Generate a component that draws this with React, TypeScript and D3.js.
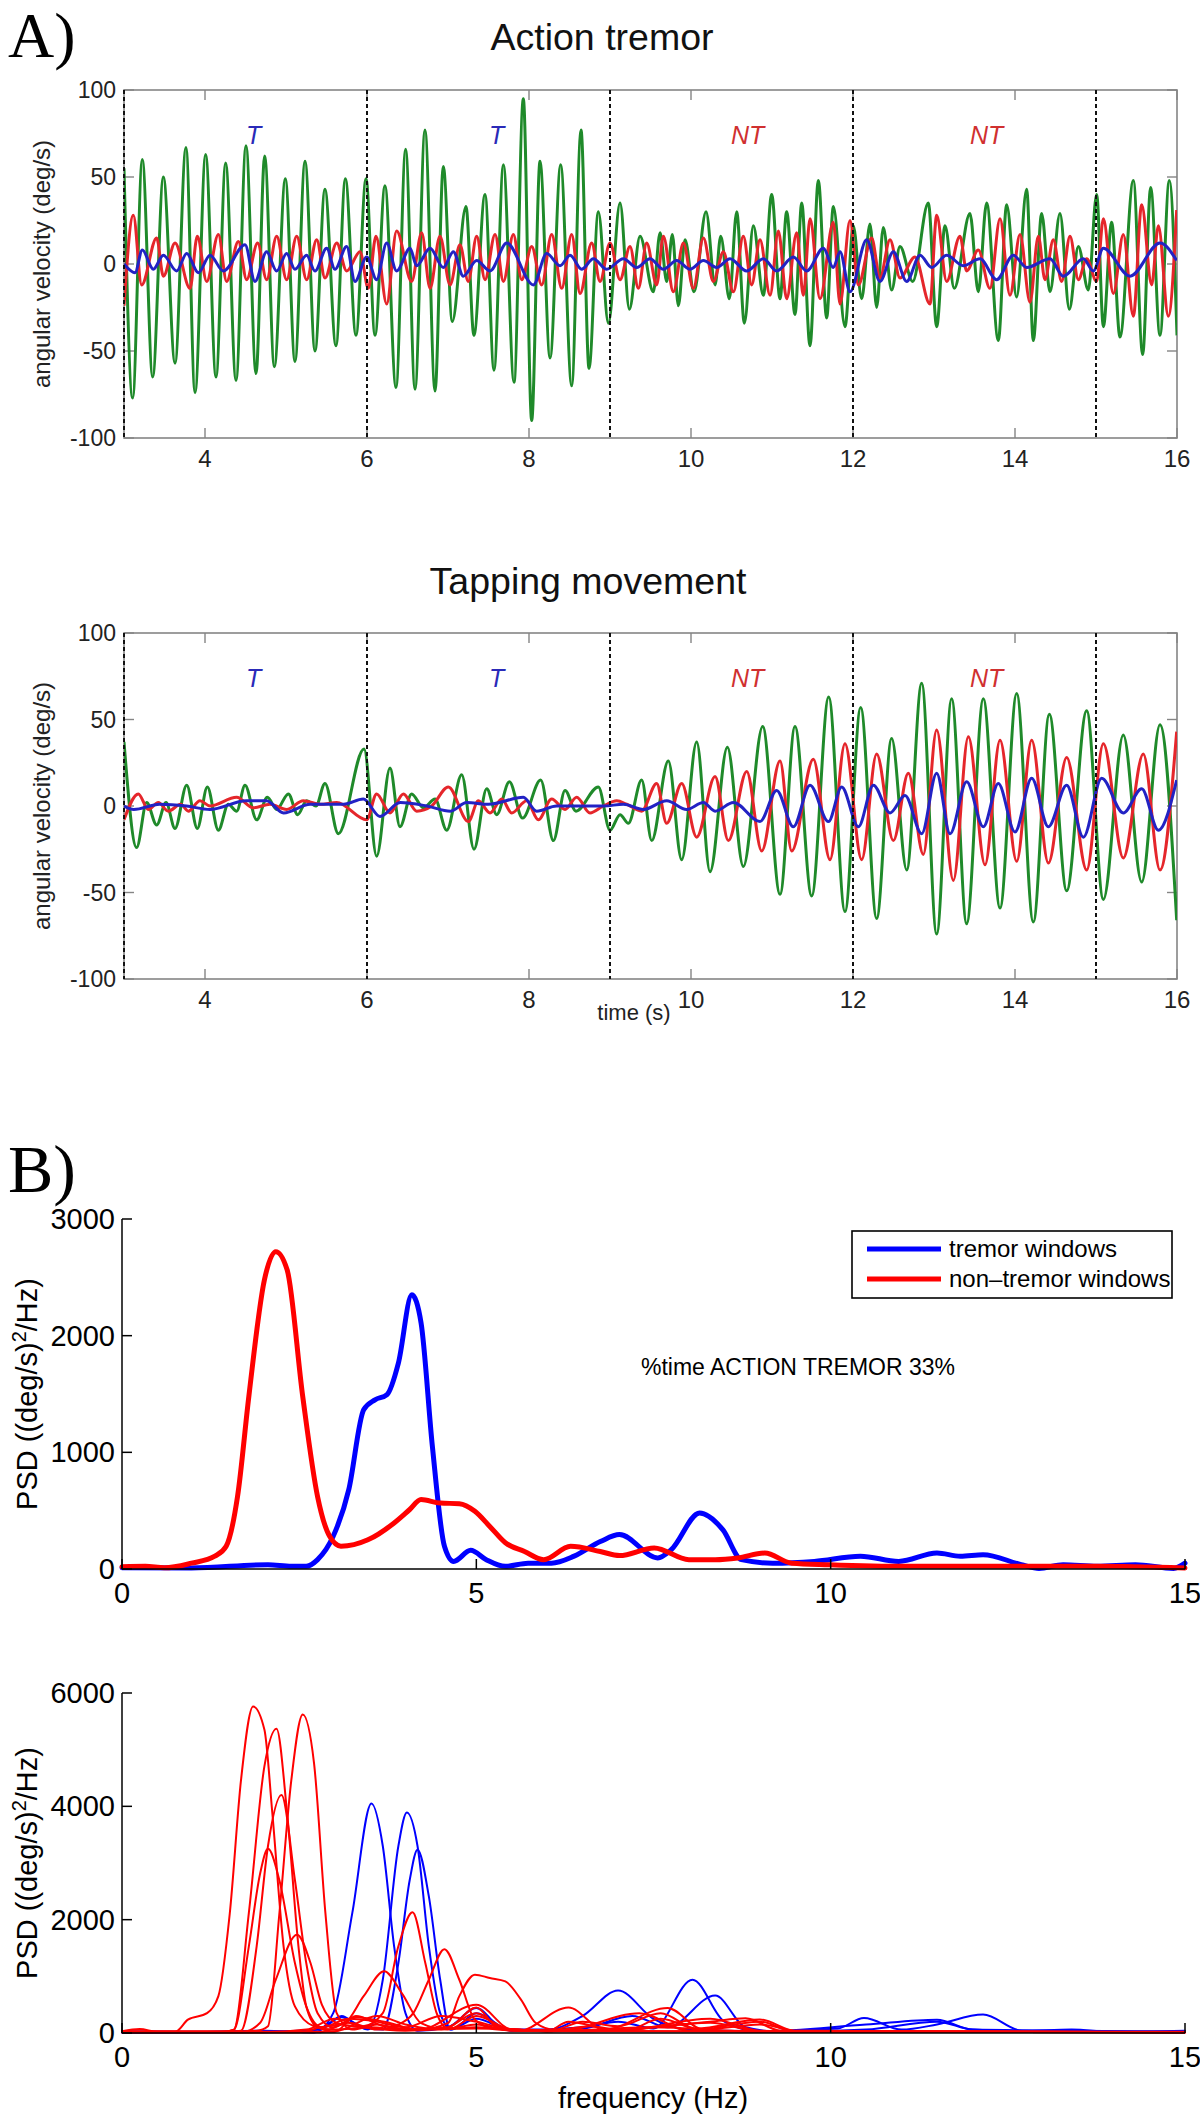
import * as d3 from "d3";

type Pt = [number, number];

// ---------- A) angular velocity traces: turning points [time s, deg/s]
const actionGreen: Pt[] = [
  [3.0, 55], [3.107, -77], [3.226, 60], [3.354, -65], [3.486, 50], [3.63, -57], [3.765, 67], [3.877, -74],
  [4.008, 63], [4.136, -65], [4.255, 58], [4.383, -67], [4.506, 68], [4.63, -63], [4.737, 62], [4.856, -59],
  [4.992, 49], [5.111, -56], [5.235, 59], [5.358, -50], [5.481, 43], [5.617, -47], [5.733, 49], [5.864, -41],
  [5.988, 49], [6.099, -41], [6.222, 45], [6.358, -71], [6.477, 66], [6.593, -72], [6.716, 77], [6.84, -73],
  [6.942, 56], [7.053, -33], [7.222, 33], [7.32, -41], [7.457, 40], [7.568, -61], [7.684, 57], [7.815, -68],
  [7.93, 95], [8.033, -90], [8.136, 59], [8.26, -54], [8.391, 57], [8.527, -70], [8.642, 77], [8.741, -60],
  [8.856, 30], [8.98, -34], [9.124, 35], [9.239, -26], [9.371, 16], [9.535, -16], [9.618, 18], [9.7, -10],
  [9.77, 17], [9.844, -24], [9.926, 14], [10.037, -16], [10.186, 30], [10.297, -12], [10.367, 16], [10.474, -20],
  [10.564, 30], [10.659, -34], [10.77, 22], [10.893, -18], [10.996, 40], [11.099, -20], [11.181, 30], [11.284, -29],
  [11.367, 35], [11.469, -47], [11.572, 48], [11.675, -31], [11.757, 33], [11.901, -36], [12.004, 22], [12.107, -20],
  [12.21, 23], [12.292, -25], [12.374, 21], [12.477, -15], [12.58, 10], [12.737, -10], [12.93, 35], [13.033, -36],
  [13.136, 22], [13.25, -14], [13.444, 29], [13.547, -16], [13.65, 35], [13.794, -44], [13.897, 34], [14.02, -19],
  [14.144, 43], [14.226, -44], [14.329, 29], [14.432, -16], [14.555, 29], [14.671, -26], [14.782, 10], [14.905, -15],
  [15.008, 40], [15.091, -36], [15.193, 24], [15.296, -42], [15.461, 48], [15.576, -52], [15.675, 44], [15.79, -41],
  [15.905, 48], [16.0, -41],
];

const actionRed: Pt[] = [
  [3.0, -24], [3.115, 28], [3.218, -12], [3.403, 15], [3.486, -7], [3.63, 12], [3.815, -14], [3.905, 16],
  [4.021, -10], [4.165, 17], [4.267, -10], [4.412, 13], [4.514, -9], [4.65, 12], [4.761, -9], [4.885, 16],
  [5.008, -9], [5.132, 16], [5.255, -9], [5.379, 14], [5.481, -8], [5.626, 12], [5.749, -4], [5.914, 7],
  [6.016, -14], [6.111, 16], [6.243, -23], [6.366, 19], [6.551, -10], [6.675, 18], [6.778, -14], [6.901, 16],
  [7.025, -12], [7.148, 11], [7.25, -10], [7.354, 16], [7.457, -9], [7.581, 17], [7.684, -10], [7.807, 17],
  [7.91, -9], [8.033, 10], [8.157, -12], [8.28, 17], [8.404, -14], [8.527, 17], [8.63, -17], [8.774, 12],
  [8.877, -10], [9.0, 12], [9.124, -9], [9.247, 10], [9.35, -14], [9.453, 12], [9.576, -12], [9.659, 16],
  [9.782, -16], [9.906, 12], [10.029, -14], [10.153, 15], [10.276, -10], [10.4, 7], [10.523, -16], [10.646, 16],
  [10.749, -12], [10.852, 14], [10.976, -18], [11.079, 19], [11.181, -20], [11.305, 18], [11.387, -18], [11.47, 26],
  [11.593, -20], [11.757, 24], [11.839, -23], [11.963, 25], [12.066, -12], [12.23, 15], [12.333, -8], [12.457, 14],
  [12.58, -8], [12.765, 4], [12.95, -23], [13.033, 28], [13.156, -10], [13.321, 16], [13.403, -4], [13.547, 8],
  [13.691, -14], [13.815, 26], [13.938, -18], [14.062, 17], [14.185, -22], [14.288, 16], [14.37, -9], [14.473, 14],
  [14.576, -10], [14.679, 16], [14.782, -9], [14.885, 3], [15.008, -10], [15.091, 26], [15.214, -17], [15.337, 17],
  [15.461, -30], [15.564, 34], [15.687, -12], [15.77, 22], [15.893, -30], [15.996, 31],
];

const actionBlue: Pt[] = [
  [3.0, 0], [3.136, -5], [3.226, 8], [3.362, -3], [3.486, 5], [3.65, -4], [3.774, 6], [3.918, -5],
  [4.062, 5], [4.226, -4], [4.494, 11], [4.617, -10], [4.761, 7], [4.885, -4], [5.008, 6], [5.111, -3],
  [5.255, 5], [5.358, -4], [5.502, 9], [5.605, -3], [5.749, 10], [5.852, -10], [5.996, 4], [6.119, -9],
  [6.243, 12], [6.366, -4], [6.531, 9], [6.613, -1], [6.778, 9], [6.942, -2], [7.066, 7], [7.189, -7],
  [7.354, 2], [7.519, -4], [7.725, 12], [8.054, -12], [8.218, 6], [8.383, -1], [8.507, 5], [8.65, -3],
  [8.795, 3], [8.959, -3], [9.165, 3], [9.33, -2], [9.494, 3], [9.659, -3], [9.823, 2], [9.988, -3],
  [10.153, 2], [10.317, -2], [10.482, 3], [10.687, -4], [10.893, 3], [11.058, -4], [11.264, 4], [11.428, -4],
  [11.634, 9], [11.757, -2], [11.84, 7], [11.963, -16], [12.169, 14], [12.333, -10], [12.498, 7], [12.663, -10],
  [12.827, 5], [12.971, -2], [13.156, 5], [13.362, -1], [13.568, 3], [13.774, -9], [13.979, 5], [14.144, -2],
  [14.432, 3], [14.597, -7], [14.844, 3], [14.967, -4], [15.091, 9], [15.42, -7], [15.79, 12], [15.996, 2],
];

const tapGreen: Pt[] = [
  [3.0, 37], [3.156, -24], [3.28, 2], [3.403, -11], [3.519, 2], [3.63, -13], [3.774, 12], [3.905, -13],
  [4.029, 11], [4.165, -14], [4.288, 1], [4.391, -3], [4.494, 12], [4.638, -8], [4.77, 5], [4.885, -2],
  [5.029, 7], [5.144, -5], [5.255, 3], [5.37, 0], [5.481, 13], [5.646, -16], [5.963, 33], [6.119, -29],
  [6.284, 22], [6.407, -12], [6.551, 7], [6.695, -1], [6.84, 4], [6.984, -14], [7.169, 18], [7.321, -25],
  [7.478, 10], [7.601, -5], [7.758, 14], [7.92, -7], [8.144, 15], [8.301, -20], [8.445, 9], [8.58, -3],
  [8.856, 11], [9.0, -14], [9.124, -5], [9.227, -10], [9.391, 15], [9.515, -20], [9.72, 26], [9.885, -31],
  [10.07, 37], [10.235, -38], [10.449, 34], [10.646, -35], [10.885, 46], [11.099, -51], [11.284, 46], [11.49, -52],
  [11.7, 63], [11.901, -61], [12.095, 57], [12.292, -65], [12.477, 39], [12.663, -37], [12.848, 71], [13.033, -74],
  [13.218, 62], [13.403, -68], [13.609, 62], [13.815, -59], [14.021, 65], [14.226, -67], [14.424, 53], [14.638, -49],
  [14.885, 55], [15.091, -54], [15.337, 41], [15.564, -44], [15.79, 47], [15.996, -66],
];

const tapRed: Pt[] = [
  [3.0, -8], [3.177, 7], [3.3, -2], [3.424, 2], [3.547, -3], [3.7, 1], [3.794, -3], [3.938, 3],
  [4.062, 0], [4.391, 5], [4.597, -1], [4.802, 1], [5.008, -2], [5.214, 3], [5.42, 1], [5.626, 2],
  [5.996, -8], [6.119, 7], [6.284, -4], [6.449, 7], [6.613, -3], [6.798, 0], [7.004, 11], [7.251, -9],
  [7.375, 3], [7.519, -4], [7.663, 4], [7.786, -4], [7.971, 3], [8.116, -8], [8.28, 4], [8.445, -2],
  [8.589, 5], [8.753, -4], [8.918, 0], [9.083, 3], [9.206, 1], [9.391, -3], [9.576, 13], [9.7, -10],
  [9.885, 13], [10.07, -18], [10.297, 17], [10.461, -20], [10.688, 20], [10.873, -26], [11.099, 26], [11.243, -26],
  [11.51, 27], [11.716, -31], [11.901, 36], [12.107, -31], [12.292, 30], [12.498, -20], [12.683, 19], [12.868, -28],
  [13.033, 44], [13.239, -43], [13.424, 40], [13.63, -34], [13.815, 38], [14.021, -32], [14.206, 38], [14.412, -33],
  [14.638, 28], [14.885, -37], [15.091, 36], [15.337, -30], [15.584, 30], [15.79, -37], [15.996, 43],
];

const tapBlue: Pt[] = [
  [3.0, 0], [3.12, -2], [3.44, 1], [3.77, 0], [4.06, -2], [4.51, 3], [4.76, 3], [4.97, -4],
  [5.3, 1], [5.71, 1], [5.955, 4], [6.16, -6], [6.41, 2], [6.74, 0], [7.03, -3], [7.23, 2],
  [7.5, 1], [7.93, 5], [8.095, -3], [8.34, 0], [8.63, 0], [8.92, 0], [9.165, 1], [9.412, -2],
  [9.7, 3], [9.947, -2], [10.153, 2], [10.297, -3], [10.523, 2], [10.852, -9], [11.058, 9], [11.264, -12],
  [11.47, 12], [11.696, -9], [11.86, 11], [12.066, -12], [12.251, 12], [12.457, -4], [12.642, 6], [12.848, -16],
  [13.033, 19], [13.198, -16], [13.403, 14], [13.609, -12], [13.794, 13], [14.0, -15], [14.206, 16], [14.412, -12],
  [14.638, 12], [14.844, -18], [15.07, 16], [15.337, -4], [15.564, 10], [15.77, -14], [15.996, 15],
];

const timeTicks = [4, 6, 8, 10, 12, 14, 16];
const velocityTicks = [-100, -50, 0, 50, 100];
const windowEdges = [3, 6, 9, 12, 15];
const windowTags = [
  { t: 4.6, tag: "T" },
  { t: 7.6, tag: "T" },
  { t: 10.7, tag: "NT" },
  { t: 13.65, tag: "NT" },
];

// ---------- B) power spectral density [Hz, (deg/s)^2/Hz]
const freqTicks = [0, 5, 10, 15];
const meanPsdTicks = [0, 1000, 2000, 3000];
const windowPsdTicks = [0, 2000, 4000, 6000];

const meanTremor: Pt[] = [
  [0, 10], [0.98, 9], [2.06, 37], [2.39, 23], [2.6, 23], [2.76, 80], [2.98, 280], [3.2, 680],
  [3.41, 1365], [3.57, 1450], [3.74, 1495], [3.9, 1765], [4.09, 2350], [4.22, 2110], [4.38, 1050], [4.55, 195],
  [4.68, 65], [4.92, 160], [5.14, 80], [5.41, 23], [5.73, 50], [6.06, 50], [6.38, 110], [6.75, 235],
  [7.02, 295], [7.56, 95], [7.75, 165], [8.15, 480], [8.48, 335], [8.74, 80], [9.18, 50], [9.77, 65],
  [10.42, 110], [10.96, 65], [11.5, 137], [11.83, 110], [12.15, 123], [12.69, 37], [12.94, 5], [13.28, 37],
  [13.76, 23], [14.3, 37], [14.84, 5], [15, 50],
];

const meanNonTremor: Pt[] = [
  [0, 20], [0.33, 23], [0.6, 10], [0.98, 50], [1.31, 110], [1.47, 195], [1.63, 620], [1.79, 1480],
  [2.01, 2480], [2.17, 2720], [2.33, 2565], [2.55, 1480], [2.76, 620], [2.93, 280], [3.09, 195], [3.47, 250],
  [3.84, 395], [4.06, 510], [4.22, 595], [4.49, 565], [4.76, 560], [4.98, 495], [5.19, 365], [5.41, 225],
  [5.68, 150], [5.95, 80], [6.33, 195], [6.75, 150], [7.02, 115], [7.51, 180], [8.0, 80], [8.37, 80],
  [8.69, 95], [9.07, 137], [9.45, 50], [9.98, 37], [11.06, 23], [12.68, 23], [13.76, 23], [15, 9],
];

const tremorWindows: Pt[][] = [
  [[0, 30], [1, 20], [2, 40], [2.71, 10], [2.98, 350], [3.25, 2120], [3.52, 4050], [3.68, 3300], [3.84, 1530],
    [4.0, 350], [4.17, 40], [4.6, 100], [5.0, 440], [5.4, 60], [6.0, 60], [6.5, 300], [7.0, 750], [7.5, 250],
    [8.0, 60], [9, 30], [10.5, 150], [11.5, 235], [12, 60], [13.5, 40], [15, 20]],
  [[0, 10], [2, 20], [2.8, 60], [3.1, 300], [3.3, 150], [3.47, 60], [3.68, 940], [3.9, 3300], [4.02, 3890],
    [4.17, 3300], [4.33, 1530], [4.49, 350], [4.65, 60], [5.0, 350], [5.5, 40], [6.5, 100], [7.0, 200], [7.5, 80],
    [8.05, 940], [8.5, 200], [9, 30], [10.1, 80], [10.47, 265], [11, 60], [11.5, 150], [12.15, 325], [12.7, 40],
    [13.4, 60], [14, 20], [15, 40]],
  [[0, 10], [2.5, 20], [2.8, 80], [3.1, 280], [3.4, 100], [3.68, 60], [3.9, 1235], [4.06, 2700], [4.17, 3235],
    [4.33, 2410], [4.49, 940], [4.63, 60], [5.0, 250], [5.5, 40], [6.5, 80], [7.2, 300], [7.7, 100], [8.37, 660],
    [8.8, 100], [9.3, 20], [10.5, 60], [11.5, 200], [12, 60], [13, 30], [15, 20]],
];

const nonTremorWindows: Pt[][] = [
  [[0, 30], [0.25, 70], [0.5, 20], [0.75, 20], [0.93, 235], [1.2, 350], [1.36, 650], [1.52, 2100], [1.68, 4470],
    [1.85, 5760], [2.01, 5350], [2.12, 3900], [2.28, 1530], [2.44, 470], [2.71, 120], [3.0, 60], [3.5, 100],
    [4.0, 60], [5.0, 80], [6.0, 40], [8, 30], [10, 20], [15, 20]],
  [[0, 20], [1.4, 20], [1.58, 60], [1.79, 2120], [2.01, 4710], [2.18, 5370], [2.33, 3880], [2.49, 1530], [2.6, 470],
    [2.76, 100], [3.0, 30], [3.6, 300], [4.0, 150], [4.5, 60], [5.0, 350], [5.4, 60], [6.0, 30], [7.5, 100],
    [9, 20], [15, 15]],
  [[0, 20], [1.5, 20], [1.9, 40], [2.06, 120], [2.22, 2100], [2.39, 4470], [2.55, 5620], [2.71, 4760], [2.87, 2120],
    [3.03, 350], [3.25, 60], [3.6, 150], [4.0, 60], [4.6, 100], [5.0, 450], [5.3, 100], [6.0, 30], [6.3, 200],
    [7, 40], [8.3, 250], [9, 40], [10, 20], [15, 15]],
  [[0, 20], [1.5, 20], [1.68, 40], [1.9, 1530], [2.06, 3300], [2.25, 4200], [2.44, 2700], [2.6, 1235], [2.76, 350],
    [2.98, 100], [3.3, 280], [3.7, 200], [4.2, 60], [5.0, 500], [5.5, 60], [6.2, 40], [7.3, 350], [8, 40],
    [9, 200], [9.5, 20], [15, 15]],
  [[0, 20], [1.4, 20], [1.58, 60], [1.79, 1530], [1.95, 2820], [2.06, 3250], [2.22, 2700], [2.44, 1235], [2.6, 470],
    [2.82, 100], [3.2, 250], [3.6, 200], [4.0, 100], [4.5, 300], [5.0, 200], [5.6, 40], [6.3, 450], [6.8, 60],
    [7.7, 440], [8.2, 60], [9.0, 150], [9.6, 20], [15, 15]],
  [[0, 20], [1.7, 20], [1.95, 180], [2.17, 940], [2.47, 1735], [2.66, 1235], [2.82, 500], [3.03, 176], [3.4, 100],
    [4.0, 40], [5.0, 100], [6, 30], [15, 15]],
  [[0, 15], [2, 15], [2.6, 60], [3.0, 250], [3.4, 120], [3.68, 350], [3.9, 1530], [4.1, 2130], [4.28, 1235],
    [4.44, 350], [4.6, 80], [5.0, 150], [5.5, 40], [7, 50], [8.3, 180], [9, 30], [15, 15]],
  [[0, 15], [2.8, 15], [3.2, 180], [3.6, 60], [3.9, 150], [4.11, 350], [4.33, 940], [4.55, 1480], [4.76, 940],
    [4.98, 235], [5.3, 60], [6, 30], [6.6, 120], [7.1, 40], [7.6, 250], [8.2, 40], [15, 15]],
  [[0, 15], [2.5, 15], [2.8, 100], [3.14, 176], [3.41, 650], [3.7, 1090], [3.95, 700], [4.22, 176], [4.6, 60],
    [5.0, 300], [5.5, 60], [6.5, 30], [8.3, 200], [8.8, 260], [9.3, 40], [15, 15]],
  [[0, 20], [3.0, 20], [3.3, 300], [3.7, 120], [4.2, 60], [4.6, 176], [4.76, 650], [4.98, 1030], [5.19, 970],
    [5.41, 910], [5.63, 590], [5.84, 176], [6.1, 60], [6.5, 200], [7.0, 120], [7.6, 350], [8.1, 80], [9.0, 240],
    [9.5, 40], [15, 15]],
];

const legendItems = [
  { label: "tremor windows", color: "#0000ff" },
  { label: "non\u2013tremor windows", color: "#ff0000" },
];

const SANS = "'Liberation Sans', Arial, Helvetica, sans-serif";
const SERIF = "'Liberation Serif', 'Times New Roman', serif";
const GREEN = "#1f8a2a";
const RED_A = "#e5262b";
const BLUE_A = "#2222c4";
const AXIS_GRAY = "#858585";

function TimePanel({ id, top, bottom, title, titleX, titleY, green, red, blue, xLabel }: {
  id: string; top: number; bottom: number; title: string; titleX: number; titleY: number;
  green: Pt[]; red: Pt[]; blue: Pt[]; xLabel?: string;
}) {
  const x = d3.scaleLinear().domain([3, 16]).range([124, 1177]);
  const y = d3.scaleLinear().domain([-100, 100]).range([bottom, top]);
  const line = d3.line<Pt>().x((d) => x(d[0])).y((d) => y(d[1])).curve(d3.curveMonotoneX);
  const tick = 10;
  return (
    <g fontFamily={SANS}>
      <text x={titleX} y={titleY} fontSize={37.5} textAnchor="middle" fill="#111">{title}</text>
      <clipPath id={id}>
        <rect x={x(3)} y={top} width={x(16) - x(3)} height={bottom - top} />
      </clipPath>
      <rect x={x(3)} y={top} width={x(16) - x(3)} height={bottom - top} fill="#fff" stroke={AXIS_GRAY} strokeWidth={1.6} />
      {timeTicks.map((t) => (
        <g key={t} stroke={AXIS_GRAY} strokeWidth={1.4}>
          <line x1={x(t)} x2={x(t)} y1={bottom} y2={bottom - tick} />
          <line x1={x(t)} x2={x(t)} y1={top} y2={top + tick} />
        </g>
      ))}
      {velocityTicks.map((v) => (
        <g key={v} stroke={AXIS_GRAY} strokeWidth={1.4}>
          <line x1={x(3)} x2={x(3) + tick} y1={y(v)} y2={y(v)} />
          <line x1={x(16)} x2={x(16) - tick} y1={y(v)} y2={y(v)} />
        </g>
      ))}
      <g clipPath={`url(#${id})`} fill="none" strokeWidth={3} strokeLinejoin="round">
        <path d={line(green) ?? ""} stroke={GREEN} />
        <path d={line(red) ?? ""} stroke={RED_A} />
        <path d={line(blue) ?? ""} stroke={BLUE_A} />
      </g>
      {windowEdges.map((t) => (
        <line key={t} x1={x(t)} x2={x(t)} y1={top} y2={bottom} stroke="#111" strokeWidth={2} strokeDasharray="4 3" />
      ))}
      {windowTags.map((w) => (
        <text key={w.t} x={x(w.t)} y={y(74)} dy="0.35em" textAnchor="middle" fontSize={25} fontStyle="italic"
          fill={w.tag === "T" ? "#2a2ab8" : "#d03030"}>{w.tag}</text>
      ))}
      {velocityTicks.map((v) => (
        <text key={v} x={116} y={y(v)} dy="0.35em" textAnchor="end" fontSize={23} fill="#222">{v}</text>
      ))}
      {timeTicks.map((t) => (
        <text key={t} x={x(t)} y={bottom + 29} textAnchor="middle" fontSize={24} fill="#222">{t}</text>
      ))}
      <text transform={`translate(50,${(top + bottom) / 2}) rotate(-90)`} textAnchor="middle" fontSize={24} fill="#222">
        angular velocity (deg/s)
      </text>
      {xLabel && (
        <text x={634} y={bottom + 41} textAnchor="middle" fontSize={22} fill="#222">{xLabel}</text>
      )}
    </g>
  );
}

function PsdPanel({ top, bottom, yMax, yTicks, series, width, children }: {
  top: number; bottom: number; yMax: number; yTicks: number[];
  series: { data: Pt[]; color: string }[]; width: number; children?: any;
}) {
  const x = d3.scaleLinear().domain([0, 15]).range([122, 1185]);
  const y = d3.scaleLinear().domain([0, yMax]).range([bottom, top]);
  const line = d3.line<Pt>().x((d) => x(d[0])).y((d) => y(d[1])).curve(d3.curveMonotoneX);
  const mid = (top + bottom) / 2;
  return (
    <g fontFamily={SANS}>
      <g fill="none" strokeWidth={width} strokeLinejoin="round" strokeLinecap="round">
        {series.map((s, i) => (
          <path key={i} d={line(s.data) ?? ""} stroke={s.color} />
        ))}
      </g>
      <line x1={x(0)} x2={x(0)} y1={top} y2={bottom} stroke="#000" strokeWidth={1.5} />
      <line x1={x(0)} x2={x(15)} y1={bottom} y2={bottom} stroke="#000" strokeWidth={1.5} />
      {yTicks.map((v) => (
        <g key={v}>
          <line x1={x(0)} x2={x(0) + 10} y1={y(v)} y2={y(v)} stroke="#000" strokeWidth={1.5} />
          <text x={115} y={y(v)} dy="0.35em" textAnchor="end" fontSize={29}>{v}</text>
        </g>
      ))}
      {freqTicks.map((f) => (
        <g key={f}>
          <line x1={x(f)} x2={x(f)} y1={bottom} y2={bottom - 10} stroke="#000" strokeWidth={1.5} />
          <text x={x(f)} y={bottom + 34} textAnchor="middle" fontSize={29}>{f}</text>
        </g>
      ))}
      <text transform={`translate(37,${mid}) rotate(-90)`} textAnchor="middle" fontSize={29}>
        PSD ((deg/s)<tspan baselineShift="super" fontSize={20}>2</tspan>/Hz)
      </text>
      {children}
    </g>
  );
}

export default function App() {
  const tremorSeries = tremorWindows.map((d) => ({ data: d, color: "#0000ff" }));
  const nonTremorSeries = nonTremorWindows.map((d) => ({ data: d, color: "#ff0000" }));
  return (
    <svg width={1200} height={2120} viewBox="0 0 1200 2120"
      style={{ position: "absolute", left: 0, top: 0, background: "#fff" }}>
      <rect width={1200} height={2120} fill="#fff" />
      <text x={8} y={57} fontFamily={SERIF} fontSize={64}>A)</text>
      <text x={8} y={1192} fontFamily={SERIF} fontSize={68}>B)</text>

      <TimePanel id="clipA1" top={90} bottom={438} title="Action tremor" titleX={602} titleY={50}
        green={actionGreen} red={actionRed} blue={actionBlue} />
      <TimePanel id="clipA2" top={633} bottom={979} title="Tapping movement" titleX={588} titleY={594}
        green={tapGreen} red={tapRed} blue={tapBlue} xLabel="time (s)" />

      <PsdPanel top={1219} bottom={1569} yMax={3000} yTicks={meanPsdTicks} width={5}
        series={[{ data: meanTremor, color: "#0000ff" }, { data: meanNonTremor, color: "#ff0000" }]}>
        <rect x={852} y={1231} width={320} height={67} fill="#fff" stroke="#000" strokeWidth={1.6} />
        {legendItems.map((item, i) => (
          <g key={item.label}>
            <line x1={867} x2={941} y1={1249 + i * 30} y2={1249 + i * 30} stroke={item.color} strokeWidth={5} />
            <text x={949} y={1249 + i * 30} dy="0.35em" fontSize={24}>{item.label}</text>
          </g>
        ))}
        <text x={641} y={1367} dy="0.35em" fontSize={23}>%time ACTION TREMOR 33%</text>
      </PsdPanel>

      <PsdPanel top={1693} bottom={2033} yMax={6000} yTicks={windowPsdTicks} width={2}
        series={[...tremorSeries, ...nonTremorSeries]}>
        <text x={653} y={2108} textAnchor="middle" fontSize={29}>frequency (Hz)</text>
      </PsdPanel>
    </svg>
  );
}
